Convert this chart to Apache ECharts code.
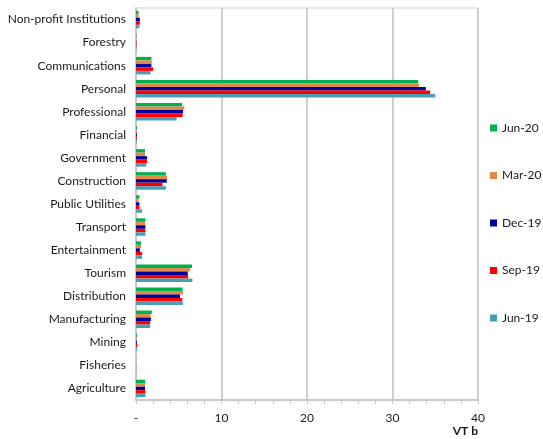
<!DOCTYPE html>
<html>
<head>
<meta charset="utf-8">
<script src="https://cdn.jsdelivr.net/npm/echarts@6/dist/echarts.min.js"></script>
<style>
  html, body { margin: 0; padding: 0; background: #fff; }
  #main { width: 543px; height: 439px; }
</style>
</head>
<body>
<div id="main"></div>
<script>
// sectors, bottom to top
var categories = ['Agriculture', 'Fisheries', 'Mining', 'Manufacturing', 'Distribution', 'Tourism',
  'Entertainment', 'Transport', 'Public Utilities', 'Construction', 'Government', 'Financial',
  'Professional', 'Personal', 'Communications', 'Forestry', 'Non-profit Institutions'];

var jun19 = [1.1, 0.02, 0.1, 1.65, 5.5, 6.6, 0.7, 1.1, 0.7, 3.5, 1.2, 0.1, 4.75, 35.0, 1.7, 0.05, 0.4];
var sep19 = [1.1, 0.02, 0.15, 1.65, 5.4, 6.1, 0.7, 1.1, 0.4, 3.1, 1.3, 0.1, 5.45, 34.4, 2.0, 0.05, 0.45];
var dec19 = [1.05, 0.02, 0.1, 1.75, 5.15, 6.05, 0.45, 1.1, 0.4, 3.6, 1.3, 0.1, 5.5, 33.9, 1.8, 0.05, 0.45];
var mar20 = [1.05, 0.02, 0.1, 1.7, 5.5, 6.3, 0.6, 1.05, 0.3, 3.65, 1.05, 0.1, 5.65, 33.1, 1.85, 0.05, 0.3];
var jun20 = [1.05, 0.02, 0.1, 1.85, 5.45, 6.55, 0.6, 1.1, 0.4, 3.5, 1.05, 0.1, 5.4, 33.0, 1.8, 0.05, 0.3];

var xTicks = [0, 10, 20, 30, 40];

var chart = echarts.init(document.getElementById('main'));

function bar(name, data, color) {
  return {
    name: name,
    type: 'bar',
    data: data,
    barGap: '0%',
    barCategoryGap: '24%',
    itemStyle: { color: color },
    emphasis: { disabled: true }
  };
}

var option = {
  animation: false,
  textStyle: { fontFamily: 'Lato, sans-serif' },
  grid: { left: 136, right: 65, top: 8, bottom: 39, show: true, borderColor: '#d0d0d0', borderWidth: 1 },
  legend: {
    orient: 'vertical',
    left: 485,
    top: 117,
    itemGap: 35.5,
    itemWidth: 7,
    itemHeight: 7,
    icon: 'rect',
    textStyle: { fontSize: 12, color: '#1a1a1a', fontFamily: 'Lato, sans-serif' },
    data: ['Jun-20', 'Mar-20', 'Dec-19', 'Sep-19', 'Jun-19']
  },
  xAxis: {
    type: 'value',
    min: 0,
    max: 40,
    interval: 10,
    name: 'VT b',
    nameLocation: 'end',
    nameGap: 0,
    nameTextStyle: { fontWeight: 'bold', fontSize: 12, color: '#1a1a1a', align: 'right', verticalAlign: 'top', padding: [25, 0, 0, 0] },
    axisLine: { show: true, lineStyle: { color: '#c8c8c8', width: 2 } },
    axisTick: { show: true, length: 4, lineStyle: { color: '#c8c8c8' } },
    minorTick: { show: true, splitNumber: 5, length: 4, lineStyle: { color: '#c8c8c8' } },
    axisLabel: {
      fontSize: 12,
      color: '#1a1a1a',
      margin: 12,
      formatter: function (v) { return v === xTicks[0] ? '-' : String(v); }
    },
    splitLine: { show: true, lineStyle: { color: '#cfcfcf', width: 2 } }
  },
  yAxis: {
    type: 'category',
    data: categories,
    axisLine: { show: true, lineStyle: { color: '#c8c8c8', width: 2 } },
    axisTick: { show: false },
    axisLabel: { fontSize: 12, color: '#1a1a1a', margin: 10 }
  },
  // first series sits at the top of each band
  series: [
    bar('Jun-20', jun20, '#00b050'),
    bar('Mar-20', mar20, '#de8a48'),
    bar('Dec-19', dec19, '#00009c'),
    bar('Sep-19', sep19, '#ff0000'),
    bar('Jun-19', jun19, '#4a9fb6')
  ]
};

chart.setOption(option);
</script>
</body>
</html>
